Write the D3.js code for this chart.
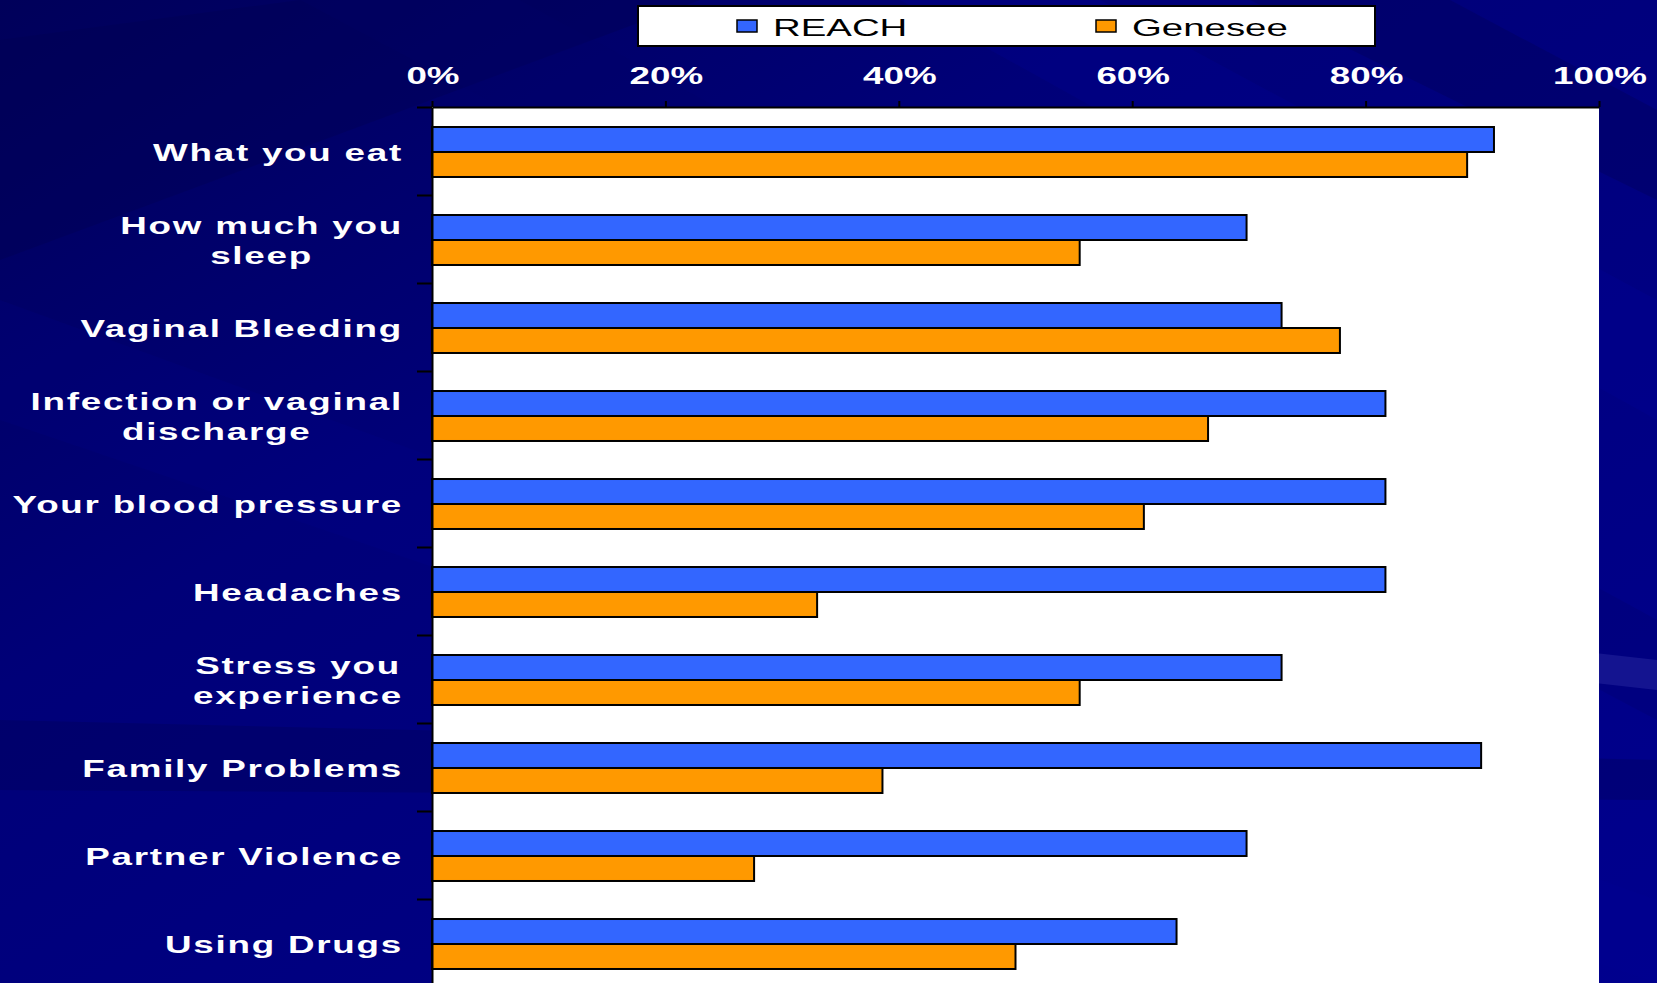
<!DOCTYPE html>
<html><head><meta charset="utf-8">
<script src="https://cdn.jsdelivr.net/npm/d3@7"></script>
<style>html,body{margin:0;padding:0;background:#000080;overflow:hidden}svg{display:block}</style>
</head><body>
<svg id="c" width="1657" height="983"></svg>
<script>
const categories = [
  ["What you eat"],
  ["How much you", "sleep"],
  ["Vaginal Bleeding"],
  ["Infection or vaginal", "discharge"],
  ["Your blood pressure"],
  ["Headaches"],
  ["Stress you", "experience"],
  ["Family Problems"],
  ["Partner Violence"],
  ["Using Drugs"]
];
const seriesNames = ["REACH", "Genesee"];
const reach   = [0.91, 0.698, 0.728, 0.817, 0.817, 0.817, 0.728, 0.899, 0.698, 0.638];
const genesee = [0.887, 0.555, 0.778, 0.665, 0.61, 0.33, 0.555, 0.386, 0.276, 0.50];
const tickValues = [0, 0.2, 0.4, 0.6, 0.8, 1.0];
const colors = ["#3366FF", "#FF9900"];

(function(){
const W = 1657, H = 983;
const SX = 1.6; // horizontal text stretch seen in the reference
const svg = d3.select("#c");

// background
const defs = svg.append("defs");
const g1 = defs.append("linearGradient").attr("id","bg").attr("x1","0").attr("y1","0").attr("x2","1").attr("y2","1");
g1.append("stop").attr("offset","0%").attr("stop-color","#00005a");
g1.append("stop").attr("offset","35%").attr("stop-color","#000078");
g1.append("stop").attr("offset","100%").attr("stop-color","#00008e");
svg.append("rect").attr("width",W).attr("height",H).attr("fill","url(#bg)");
const streaks = [
  {pts:[[0,40],[300,0],[700,0],[0,260]], c:"#000050", o:0.35},
  {pts:[[300,0],[520,0],[1657,620],[1657,720]], c:"#000066", o:0.25},
  {pts:[[900,0],[1100,0],[1657,300],[1657,420]], c:"#0000a0", o:0.2},
  {pts:[[1250,0],[1450,0],[1657,110],[1657,200]], c:"#000050", o:0.3},
  {pts:[[0,720],[1657,760],[1657,800],[0,790]], c:"#000050", o:0.3},
  {pts:[[1300,620],[1657,660],[1657,690],[1300,650]], c:"#3a3ab0", o:0.35},
  {pts:[[0,300],[1657,900],[1657,983],[0,420]], c:"#0000a0", o:0.12}
];
svg.append("g").selectAll("polygon").data(streaks).join("polygon")
  .attr("points", d => d.pts.map(p => p.join(",")).join(" "))
  .attr("fill", d => d.c).attr("opacity", d => d.o);

const pLeft = 432, pRight = 1599, pTop = 107, pBottom = 987;
const x = d3.scaleLinear().domain([0,1]).range([pLeft,pRight]);
const y = d3.scaleBand().domain(d3.range(categories.length)).range([pTop+1,pBottom+1])
  .paddingInner(0.432).paddingOuter(0.216);
const ySub = d3.scaleBand().domain([0,1]).range([0,y.bandwidth()]);

// plot area
svg.append("rect").attr("x",pLeft).attr("y",pTop).attr("width",pRight-pLeft).attr("height",pBottom-pTop).attr("fill","#ffffff");

// bars
const data = categories.map((c,i) => ({i, vals:[reach[i], genesee[i]]}));
const grp = svg.append("g").selectAll("g").data(data).join("g")
  .attr("transform", d => `translate(0,${y(d.i)})`);
grp.selectAll("rect").data(d => d.vals.map((v,k)=>({v,k}))).join("rect")
  .attr("x", x(0)).attr("y", d => ySub(d.k))
  .attr("width", d => x(d.v)-x(0)).attr("height", ySub.bandwidth())
  .attr("fill", d => colors[d.k]).attr("stroke","#000").attr("stroke-width",2);

// top axis
const xAxis = svg.append("g").attr("transform",`translate(0,${pTop})`)
  .call(d3.axisTop(x).tickValues(tickValues).tickSize(6).tickSizeOuter(0).tickFormat(""));
xAxis.select(".domain").attr("stroke","#000").attr("stroke-width",2);
xAxis.selectAll(".tick line").attr("stroke","#000").attr("stroke-width",2);
svg.append("g").selectAll("text").data(tickValues).join("text")
  .attr("transform", d => `translate(${x(d)+1},84) scale(${SX},1)`)
  .attr("text-anchor","middle")
  .attr("font-family","Liberation Sans, Arial, sans-serif").attr("font-weight","bold")
  .attr("font-size",23).attr("fill","#fff")
  .text(d => d3.format(".0%")(d));

// left axis with ticks at band boundaries
const yBound = d3.scaleLinear().domain([0,categories.length]).range([pTop,pBottom]);
const yAxis = svg.append("g").attr("transform",`translate(${pLeft},0)`)
  .call(d3.axisLeft(yBound).tickValues(d3.range(0,categories.length)).tickSize(15).tickSizeOuter(0).tickFormat(""));
yAxis.select(".domain").attr("stroke","#000").attr("stroke-width",2);
yAxis.selectAll(".tick line").attr("stroke","#000").attr("stroke-width",2);

// category labels
const labelRight = 403;
const lab = svg.append("g").attr("font-family","Liberation Sans, Arial, sans-serif")
  .attr("font-weight","bold").attr("font-size",23).attr("fill","#fff").attr("letter-spacing","1.1px");
categories.forEach((lines,i) => {
  const cy = y(i) + y.bandwidth()/2;
  if (lines.length === 1) {
    lab.append("text").attr("transform",`translate(${labelRight},${cy+9}) scale(${SX},1)`)
      .attr("text-anchor","end").text(lines[0]);
  } else {
    const ts = lines.map(t => lab.append("text").attr("text-anchor","end").text(t));
    const widths = ts.map(t => t.node().getComputedTextLength());
    const maxW = d3.max(widths);
    const cx = labelRight - maxW*SX/2;
    ts.forEach((t,j) => t.attr("text-anchor","middle")
      .attr("transform",`translate(${cx},${cy + 9 + (j-0.5)*30}) scale(${SX},1)`));
  }
});

// legend
const leg = svg.append("g");
leg.append("rect").attr("x",638).attr("y",6).attr("width",737).attr("height",40)
  .attr("fill","#fff").attr("stroke","#000").attr("stroke-width",2);
const legX = [737, 1096];
seriesNames.forEach((n,k) => {
  leg.append("rect").attr("x",legX[k]).attr("y",20).attr("width",20).attr("height",12)
    .attr("fill",colors[k]).attr("stroke","#000").attr("stroke-width",1.5);
  leg.append("text").attr("transform",`translate(${legX[k]+36},36) scale(${SX},1)`)
    .attr("font-family","Liberation Sans, Arial, sans-serif").attr("font-size",24).attr("fill","#000")
    .text(n);
});
})();
</script>
</body></html>
